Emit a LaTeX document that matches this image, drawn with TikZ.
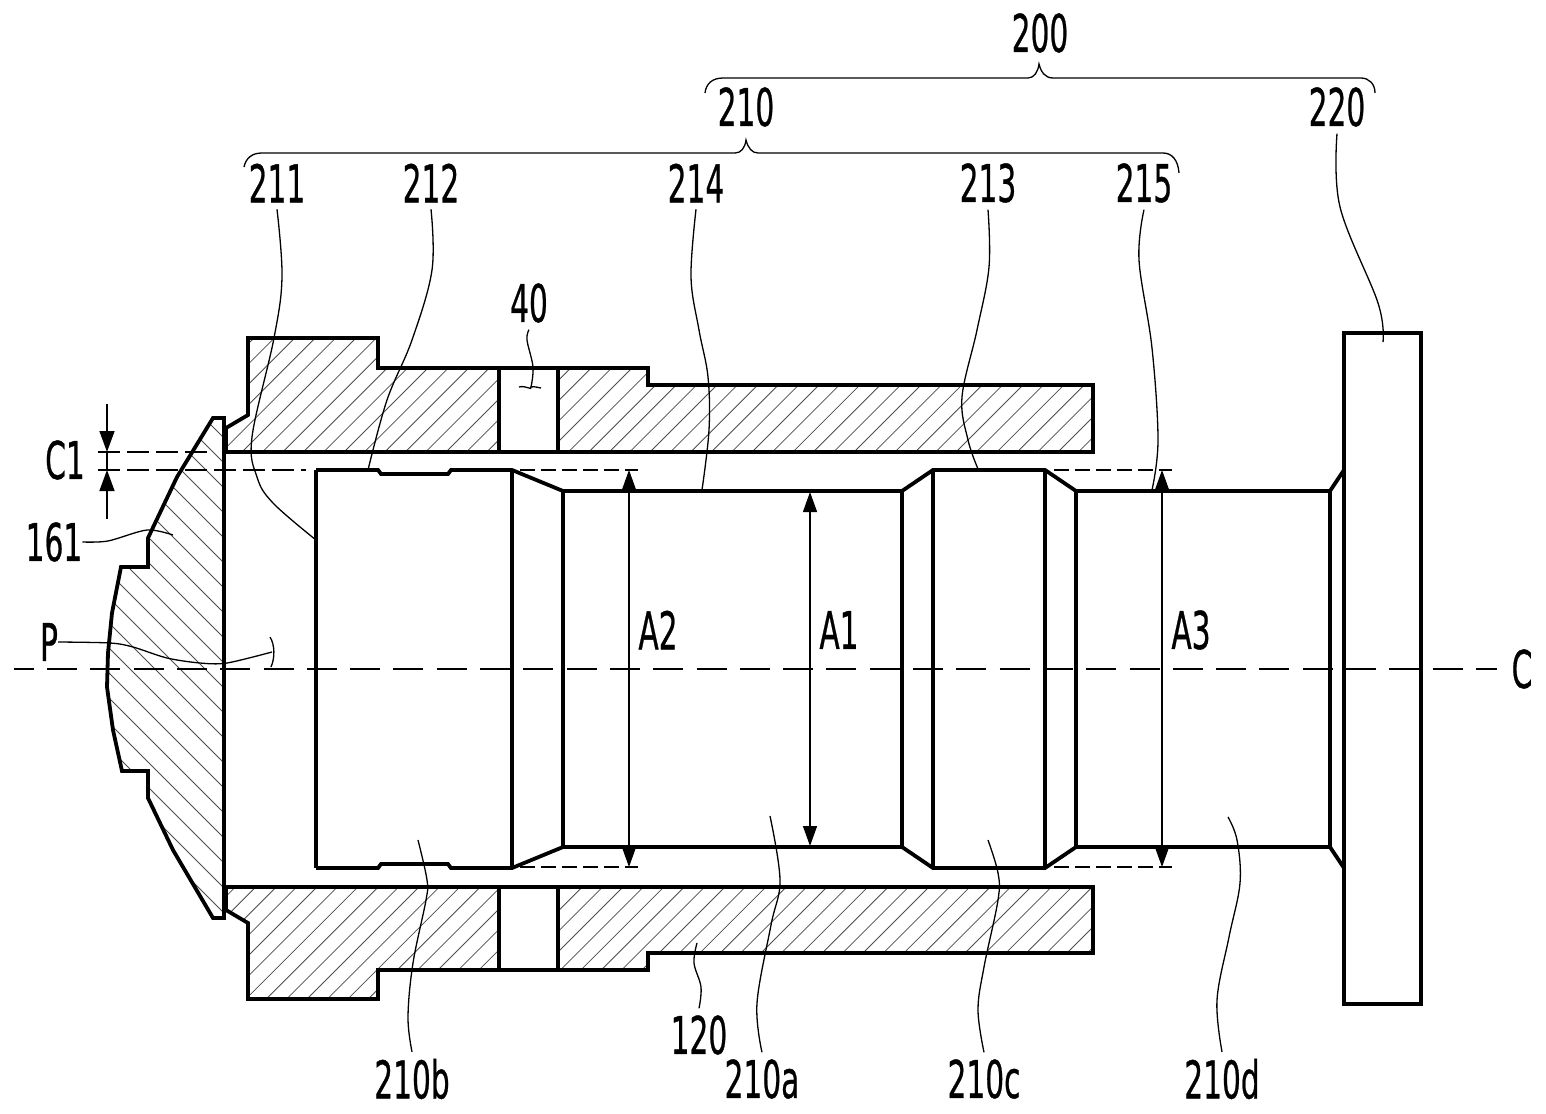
\documentclass[tikz,border=0pt]{standalone}
\usepackage{fontspec}
\setmainfont[FakeBold=0.8]{DejaVu Sans}
\usepackage{xcolor}
\usetikzlibrary{arrows.meta,positioning}
\usetikzlibrary{calc}

\newcommand{\upperleft}{(226,428) -- (248,415) -- (248,338) -- (378,338) -- (378,368) -- (499,368) -- (499,452) -- (226,452) -- cycle}
\newcommand{\upperright}{(558,368) -- (648,368) -- (648,385) -- (1093,385) -- (1093,452) -- (558,452) -- cycle}
\newcommand{\lowerleft}{(226,910) -- (248,923) -- (248,999) -- (378,999) -- (378,970) -- (499,970) -- (499,887) -- (226,887) -- cycle}
\newcommand{\lowerright}{(558,970) -- (648,970) -- (648,953) -- (1093,953) -- (1093,887) -- (558,887) -- cycle}
\newcommand{\lensoutline}{(224,418) -- (213,418) -- (177,477) -- (148,538) -- (148,567) -- (121,567) -- (112,613) -- (108,653) -- (107,687) -- (113,730) -- (122,771) -- (148,771) -- (148,798) -- (173,850) -- (213,918) -- (224,918) -- cycle}

\begin{document}
\begin{tikzpicture}[
                    x=1pt, y=-1pt,
                    every node/.style={inner sep=0pt},
                    partline/.style={line width=3.8pt, line join=miter},
                    hatchline/.style={line width=0.8pt, black!70},
                    leader/.style={line width=1.3pt},
                    cutline/.style={line width=1.5pt, dash pattern=on 22pt off 7pt},
                    stepline/.style={line width=1.5pt, dash pattern=on 15pt off 6pt},
                    axisline/.style={line width=1.7pt, dash pattern=on 30pt off 13.3pt, dash phase=10.3pt},
                    dimline/.style={line width=1.4pt},
                    dimboth/.style={dimline, {Triangle[length=20pt,width=14pt]}-{Triangle[length=20pt,width=14pt]}},
                    dimone/.style={dimline, -{Triangle[length=21pt,width=15pt]}},
                    refnum/.style={font=\fontsize{52}{52}\selectfont, xscale=0.57, outer ysep=7pt},
                ]
                    \useasboundingbox (0,0) rectangle (1546,1113);

                    % Hatching
                    \begin{scope}
                        \clip \upperleft \upperright \lowerleft \lowerright;
                        \foreach \k in {0,...,72}
                            \draw[hatchline] ({592+\k*20.4-300},300) -- ({592+\k*20.4-1010},1010);
                    \end{scope}
                    \begin{scope}
                        \clip \lensoutline;
                        \foreach \k in {-12,...,12}
                            \draw[hatchline] ({-464+\k*25+400},400) -- ({-464+\k*25+930},930);
                    \end{scope}

                    % Housing and cap
                    \draw[partline] \upperleft \upperright \lowerleft \lowerright;
                    \draw[partline] (499,368) -- (558,368) (499,452) -- (558,452) (499,887) -- (558,887) (499,970) -- (558,970);
                    \draw[partline] \lensoutline;

                    % Shaft
                    \draw[partline] (316,470) -- (378,470) -- (381,474) -- (448,474) -- (451,470) -- (512,470) -- (563,491) -- (902,491) -- (933,470) -- (1045,470) -- (1076,491) -- (1330,491) -- (1344,470);
                    \draw[partline] (316,868) -- (378,868) -- (381,864) -- (448,864) -- (451,868) -- (512,868) -- (563,847) -- (902,847) -- (933,868) -- (1045,868) -- (1076,847) -- (1330,847) -- (1344,868);
                    \foreach \xa/\ya/\yb in {316/470/868, 512/470/868, 563/491/847, 902/491/847, 933/470/868, 1045/470/868, 1076/491/847, 1330/491/847}
                        \draw[partline] (\xa,\ya) -- (\xa,\yb);
                    \draw[partline] (1344,333) rectangle (1421,1004);

                    % Reference numerals
                    \node[refnum] (n200) at (1040,33) {200};
                    \node[refnum] (n210) at (746,107) {210};
                    \node[refnum] (n220) at (1337,107) {220};
                    \node[refnum] (n211) at (277,183) {211};
                    \node[refnum] (n212) at (431,183) {212};
                    \node[refnum] (n214) at (696,183) {214};
                    \node[refnum] (n213) at (988,183) {213};
                    \node[refnum] (n215) at (1144,183) {215};
                    \node[refnum] (n40) at (529,303) {40};
                    \node[refnum] (nC1) at (65,460) {C1};
                    \node[refnum] (n161) at (54,542) {161};
                    \node[refnum] (nP) at (49,642) {P};
                    \node[refnum] (nC) at (1522,669) {C};
                    \node[refnum] (nA2) at (658,630) {A2};
                    \node[refnum] (nA1) at (839,630) {A1};
                    \node[refnum] (nA3) at (1191,630) {A3};
                    \node[refnum] (n120) at (699,1035) {120};
                    \node[refnum] (n210b) at (412,1079) {210b};
                    \node[refnum] (n210a) at (762,1079) {210a};
                    \node[refnum] (n210c) at (984,1079) {210c};
                    \node[refnum] (n210d) at (1222,1079) {210d};

                    % Free ends
                    \coordinate (e211) at (316,540);
                    \coordinate (e212) at (368,470);
                    \coordinate (e214) at (702,490);
                    \coordinate (e213) at (978,469);
                    \coordinate (e215) at (1152,490);
                    \coordinate (e220) at (1383,342);
                    \coordinate (e40) at (531,387);
                    \coordinate (e161) at (173,535);
                    \coordinate (eP) at (272,652);
                    \coordinate (e120) at (697,943);
                    \coordinate (e210b) at (418,840);
                    \coordinate (e210a) at (770,816);
                    \coordinate (e210c) at (988,840);
                    \coordinate (e210d) at (1228,817);

                    % Leaders
                    \draw[leader] plot[smooth, tension=0.6] coordinates {(n211.south) (282,277) (274,338) (252,437) (257,477) (273,503) (e211)};
                    \draw[leader] plot[smooth, tension=0.6] coordinates {(n212.south) (432,270) (412,340) (387,400) (e212)};
                    \draw[leader] plot[smooth, tension=0.6] coordinates {(n214.south) (691,277) (699,330) (708,377) (709,430) (e214)};
                    \draw[leader] plot[smooth, tension=0.6] coordinates {(n213.south) (989,267) (977,330) (962,397) (968,440) (e213)};
                    \draw[leader] plot[smooth, tension=0.6] coordinates {(n215.south) (1139,260) (1152,348) (1158,440) (e215)};
                    \draw[leader] plot[smooth, tension=0.6] coordinates {(n220.south) (1340,207) (1378,303) (e220)};
                    \draw[leader] plot[smooth, tension=0.6] coordinates {(n40.south) (527,340) (533,367) (e40)};
                    \draw[leader] (519,387) .. controls (526,385) and (532,391) .. (e40) .. controls (535,386) and (538,388) .. (541,388);
                    \draw[leader] plot[smooth, tension=0.5] coordinates {(n161.east) (108,541) (147,530) (e161)};
                    \draw[leader] plot[smooth, tension=0.5] coordinates {(nP.east) (110,643) (133,647) (167,658) (200,663) (227,663) (eP)};
                    \draw[leader] (270,637) .. controls (275,645) and (275,658) .. (271,667);
                    \draw[leader] plot[smooth, tension=0.6] coordinates {(n120.north) (701,987) (694,963) (e120)};
                    \draw[leader] plot[smooth, tension=0.6] coordinates {(n210b.north) (408,1017) (413,963) (426,900) (427,880) (e210b)};
                    \draw[leader] plot[smooth, tension=0.6] coordinates {(n210a.north) (757,1003) (771,925) (780,880) (e210a)};
                    \draw[leader] plot[smooth, tension=0.6] coordinates {(n210c.north) (978,1010) (984,967) (998,900) (998,873) (e210c)};
                    \draw[leader] plot[smooth, tension=0.6] coordinates {(n210d.north) (1217,1000) (1229,937) (1240,883) (1237,840) (e210d)};

                    % Braces
                    \draw[leader] (705,93) .. controls (706,84) and (712,78) .. (723,78) -- (1028,78) .. controls (1034,78) and (1038,72) .. (1039,64) .. controls (1041,72) and (1045,78) .. (1053,78) -- (1361,78) .. controls (1369,78) and (1375,84) .. (1375,93);
                    \draw[leader] (244,167) .. controls (246,158) and (252,153) .. (262,153) -- (735,153) .. controls (741,153) and (745,148) .. (746,140) .. controls (748,148) and (752,153) .. (758,153) -- (1163,153) .. controls (1172,153) and (1178,160) .. (1179,173);

                    % Axis and dashed extensions
                    \coordinate (axL) at (14,669);
                    \coordinate (axR) at (1497,669);
                    \draw[axisline] (axL) -- (axR);
                    \draw[cutline] (98,452) -- (214,452);
                    \draw[cutline] (98,470) -- (306,470);
                    \draw[stepline] (520,470) -- (638,470);
                    \draw[stepline] (520,867) -- (638,867);
                    \draw[stepline] (1054,470) -- (1172,470);
                    \draw[stepline] (1054,867) -- (1172,867);

                    % Dimensions
                    \coordinate (c1top) at (107,404);
                    \coordinate (c1upper) at (107,452);
                    \coordinate (c1lower) at (107,470);
                    \coordinate (c1bot) at (107,519);
                    \draw[dimone] (c1top) -- (c1upper);
                    \draw[dimone] (c1bot) -- (c1lower);
                    \draw[dimline] (c1upper) -- (c1lower);
                    \coordinate (a2top) at (629,470);
                    \coordinate (a2bot) at (629,867);
                    \coordinate (a1top) at (810,492);
                    \coordinate (a1bot) at (810,846);
                    \coordinate (a3top) at (1162,470);
                    \coordinate (a3bot) at (1162,867);
                    \draw[dimboth] (a2top) -- (a2bot);
                    \draw[dimboth] (a1top) -- (a1bot);
                    \draw[dimboth] (a3top) -- (a3bot);
                \end{tikzpicture}
\end{document}
